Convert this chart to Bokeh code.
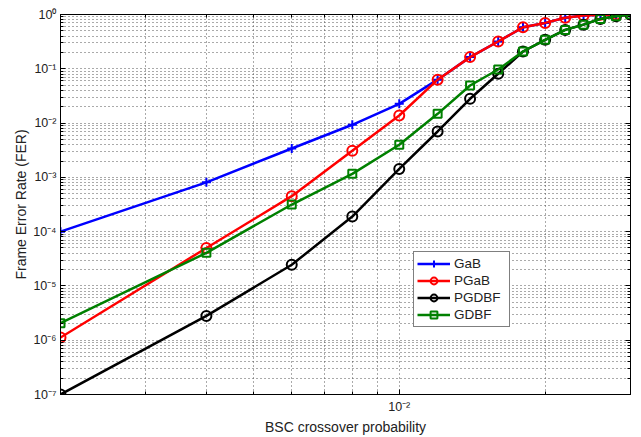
from bokeh.plotting import figure
from bokeh.models import (FixedTicker, CustomJSTickFormatter, LogAxis, Legend, LegendItem, Range1d)
from bokeh.embed import file_html
from bokeh.resources import INLINE

# ---- data ----
crossover_prob = [0.002, 0.004, 0.006, 0.008, 0.010, 0.012, 0.014, 0.016,
                  0.018, 0.020, 0.022, 0.024, 0.026, 0.028, 0.030]
fer_gab = [1.0e-4, 8.1e-4, 3.4e-3, 9.3e-3, 2.26e-2, 6.3e-2, 0.164, 0.318,
           0.58, 0.70, 0.87, 0.96, 0.99, 1.0, 1.0]
fer_pgab = [1.12e-6, 5.0e-5, 4.5e-4, 3.1e-3, 1.38e-2, 6.3e-2, 0.164, 0.318,
            0.58, 0.70, 0.87, 0.96, 0.99, 1.0, 1.0]
fer_pgdbf = [1.0e-7, 2.8e-6, 2.45e-5, 1.9e-4, 1.43e-3, 7.0e-3, 2.8e-2, 8.1e-2,
             0.208, 0.342, 0.52, 0.65, 0.83, 0.93, 1.0]
fer_gdbf = [2.06e-6, 4.07e-5, 3.16e-4, 1.16e-3, 3.98e-3, 1.48e-2, 4.92e-2, 9.7e-2,
            0.208, 0.342, 0.52, 0.65, 0.83, 0.93, 1.0]

series_names = ["GaB", "PGaB", "PGDBF", "GDBF"]
x_major_ticks = [0.01]
y_major_ticks = [1e-7, 1e-6, 1e-5, 1e-4, 1e-3, 1e-2, 1e-1, 1e0]

FONT = "Liberation Sans"

p = figure(width=641, height=437, x_axis_type="log", y_axis_type="log",
           x_range=Range1d(0.002, 0.030), y_range=Range1d(1e-7, 1.0),
           output_backend="svg", toolbar_location=None,
           min_border_left=60, min_border_right=11, min_border_top=14, min_border_bottom=43)
p.background_fill_color = "white"
p.border_fill_color = "white"
p.outline_line_color = "black"
p.outline_line_width = 1

x_minor = [m * 1e-3 for m in range(2, 10)] + [0.02, 0.03]
y_minor = [m * 10.0 ** e for e in range(-7, 0) for m in range(2, 10)]

xt = FixedTicker(ticks=x_major_ticks, minor_ticks=x_minor)
yt = FixedTicker(ticks=y_major_ticks, minor_ticks=y_minor)

sup_fmt = CustomJSTickFormatter(code="""
const sup = {'-':'\u207b','0':'\u2070','1':'\u00b9','2':'\u00b2','3':'\u00b3','4':'\u2074','5':'\u2075','6':'\u2076','7':'\u2077','8':'\u2078','9':'\u2079'};
const e = Math.round(Math.log10(tick));
return '10' + String(e).split('').map(c => sup[c]).join('');
""")
blank_fmt = CustomJSTickFormatter(code="return '';")

for ax, t in ((p.xaxis[0], xt), (p.yaxis[0], yt)):
    ax.ticker = t
    ax.formatter = sup_fmt
    ax.major_tick_in = 5
    ax.major_tick_out = 0
    ax.minor_tick_in = 3
    ax.minor_tick_out = 0
    ax.axis_line_color = "black"
    ax.major_tick_line_color = "black"
    ax.minor_tick_line_color = "black"
    ax.major_label_text_font = FONT
    ax.major_label_text_font_size = "12.5px"
    ax.major_label_text_color = "#222222"
    ax.axis_label_text_font = FONT
    ax.axis_label_text_font_size = "14px"
    ax.axis_label_text_font_style = "normal"
    ax.axis_label_text_color = "#222222"

p.xaxis.axis_label = "BSC crossover probability"
p.yaxis.axis_label = "Frame Error Rate (FER)"
p.xaxis.major_label_standoff = 5
p.xaxis.axis_label_standoff = 2
p.yaxis.major_label_standoff = 4
p.yaxis.axis_label_standoff = 1

for loc, t in (("right", yt), ("above", xt)):
    a = LogAxis(ticker=t, formatter=blank_fmt, major_tick_in=5, major_tick_out=0,
                minor_tick_in=3, minor_tick_out=0, major_label_standoff=0,
                axis_line_color="black", major_tick_line_color="black",
                minor_tick_line_color="black")
    p.add_layout(a, loc)

for g in (p.xgrid[0], p.ygrid[0]):
    g.grid_line_color = "#555555"
    g.grid_line_dash = "1 3"
    g.grid_line_width = 1
    g.minor_grid_line_color = "#555555"
    g.minor_grid_line_dash = "1 3"
    g.minor_grid_line_width = 1
p.xgrid[0].ticker = xt
p.ygrid[0].ticker = yt

items = []
# GaB
l1 = p.line(crossover_prob, fer_gab, line_color="#0000ff", line_width=2.5)
m1 = p.scatter(crossover_prob, fer_gab, marker="cross", size=9, line_color="#0000ff", line_width=2)
items.append(LegendItem(label="GaB", renderers=[l1, m1]))
# PGaB
l2 = p.line(crossover_prob, fer_pgab, line_color="#ff0000", line_width=2.5)
m2 = p.scatter(crossover_prob, fer_pgab, marker="circle", size=10, line_color="#ff0000",
               fill_color=None, line_width=2)
items.append(LegendItem(label="PGaB", renderers=[l2, m2]))
# PGDBF
l3 = p.line(crossover_prob, fer_pgdbf, line_color="black", line_width=2.5)
m3 = p.scatter(crossover_prob, fer_pgdbf, marker="circle", size=10, line_color="black",
               fill_color=None, line_width=2)
items.append(LegendItem(label="PGDBF", renderers=[l3, m3]))
# GDBF
l4 = p.line(crossover_prob, fer_gdbf, line_color="#008000", line_width=2.5)
m4 = p.scatter(crossover_prob, fer_gdbf, marker="square", size=8, line_color="#008000",
               fill_color=None, line_width=2)
items.append(LegendItem(label="GDBF", renderers=[l4, m4]))

legend = Legend(items=items, location=(353, 67), orientation="vertical",
                border_line_color="black", border_line_width=1,
                background_fill_color="white", background_fill_alpha=1.0,
                label_text_font=FONT, label_text_font_size="13.5px",
                label_text_color="#222222",
                glyph_width=33, glyph_height=17, label_height=17, label_width=52,
                label_standoff=4, spacing=0, padding=3, margin=0)
p.add_layout(legend, "center")

open("out.html", "w").write(file_html(p, INLINE))
